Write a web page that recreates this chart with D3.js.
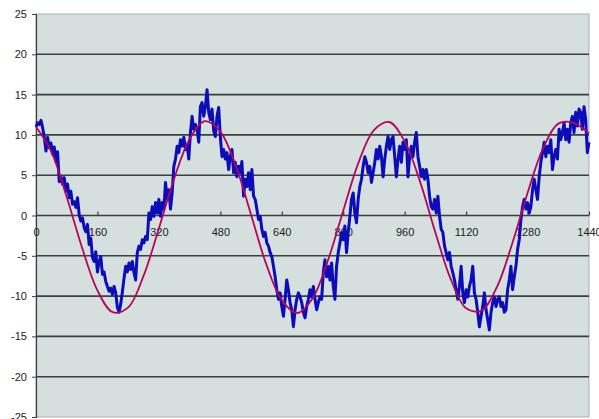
<!DOCTYPE html>
<html>
<head>
<meta charset="utf-8">
<script src="https://cdn.jsdelivr.net/npm/d3@7"></script>
<style>
  body { margin: 0; background: #ffffff; }
  svg { display: block; font-family: "Liberation Sans", Arial, sans-serif; }
  .tick text { font-size: 11px; fill: #222; }
</style>
</head>
<body>
<div id="chart"></div>
<script>
// axis settings
var xTicks = [0, 160, 320, 480, 640, 800, 960, 1120, 1280, 1440];
var yTicks = [-25, -20, -15, -10, -5, 0, 5, 10, 15, 20, 25];
var xMax = 1440;

// smooth (magenta) curve, read every 40 minutes
var smoothX = [0, 40, 80, 120, 160, 200, 240, 280, 320, 360, 400, 440, 480, 520, 560, 600, 640, 680, 720,
    760, 800, 840, 880, 920, 960, 1000, 1040, 1080, 1120, 1160, 1200, 1240, 1280, 1320, 1360, 1400, 1440];
var smoothY = [11.0, 7.9, 2.3, -4.0, -9.3, -12.0, -11.4, -7.5, -1.6, 4.6, 9.5, 11.7, 10.4, 6.2, 0.1, -6.1, -10.5,
    -12.1, -10.3, -5.6, 0.6, 6.6, 10.6, 11.6, 9.2, 4.2, -2.1, -7.9, -11.5, -11.8, -8.9, -3.5, 2.8, 8.3, 11.4, 11.5, 10.2];

// noisy (blue) series, evenly spaced over the day
var noisyY = [
    11.0, 11.5, 11.3, 11.8, 10.9, 9.7, 8.0, 9.7, 8.4, 9.0, 7.6, 8.5, 6.7, 7.9, 4.2, 4.8, 3.9, 4.7, 3.0, 3.9,
    2.2, 3.0, 1.4, 1.7, 1.0, 2.2, 0.1, -0.7, -0.3, -1.5, -2.0, -1.1, -3.6, -2.8, -5.2, -5.7, -4.5, -7.0, -5.7, -5.1,
    -7.3, -7.0, -8.2, -8.8, -9.4, -9.0, -9.8, -8.8, -9.6, -11.4, -12.0,
    -11.0, -9.5, -7.8, -6.3, -7.0, -5.9, -6.7, -5.7, -7.1, -8.0, -4.6, -3.8, -4.2, -3.0, -3.4, -2.6, -3.0, 0.3, -0.5, 1.1,
    -0.1, 1.6, 0.3, 2.0, -0.1, 1.6, 0.8, 4.1, 2.0, 3.2, 0.8, 2.8, 6.1, 7.0, 8.6, 7.8, 9.4, 8.6, 9.7, 8.2,
    8.8, 7.0, 10.3, 12.3, 10.7, 11.3, 10.7, 9.1, 13.5, 14.0, 12.3, 13.5, 15.6, 12.8, 11.9, 13.2, 10.5, 9.8, 12.3, 13.4,
    9.8, 7.3, 8.2, 7.0, 7.8, 5.7, 7.3, 8.2, 5.3, 6.6, 4.8, 6.1, 5.3, 6.7, 2.4, 4.5, 3.6, 5.3, 3.2, 5.7,
    2.4, 2.0, 0.8, -0.5, -0.1, -1.7, -2.6, -2.1, -3.4, -3.8, -4.6, -5.1, -6.3, -7.6, -9.2, -10.4, -9.6, -11.3, -12.5, -10.4,
    -8.0, -9.2, -10.8, -11.7, -13.8, -11.7, -10.4, -9.6, -10.1,
    -10.8, -12.0, -12.7, -11.3, -10.4, -9.2, -10.1, -8.8, -10.4, -11.7, -10.8, -10.1, -10.4, -7.1, -5.5, -7.6, -6.3, -8.0, -5.9, -8.8,
    -10.4, -6.3, -4.6, -3.4, -2.1, -3.0, -1.3, -4.6, -2.1, -0.1, 2.0, 2.8, 0.3, -0.9, 2.0, 3.6, 4.5, 6.1, 7.3, 6.6,
    5.3, 6.1, 4.1, 5.3, 6.6, 8.2, 7.0, 8.6, 7.3, 4.8, 7.0, 8.6, 9.8, 8.2, 9.4,
    9.8, 7.3, 4.8, 7.0, 8.6, 6.6, 9.1, 8.2, 9.4, 4.8, 7.3, 8.6, 7.3, 9.1, 10.3, 7.3, 6.1, 4.8, 5.7, 4.5,
    5.7, 4.5, 2.4, 1.1, 0.8, 2.0, 0.3, 2.4, -0.1, -1.7, -2.1, -3.8, -4.6, -5.5, -4.6, -6.3, -7.1, -8.0, -9.2, -10.4,
    -8.8, -6.3, -9.6, -10.8, -9.2, -10.1, -8.8, -8.0, -6.3, -9.6, -10.4, -12.0, -13.8, -12.5, -11.3,
    -9.6, -11.7, -12.9, -14.2, -12.0, -10.8, -10.1, -11.3, -10.4, -10.1, -11.3, -10.8, -12.0, -11.7, -9.2, -8.0, -6.3, -9.2, -7.6, -6.3,
    -4.2, -3.0, -0.5, 1.1, 2.0, 0.8, 1.6, 0.3, 1.1, 3.2, 4.5, 3.2, 2.0, 4.8, 6.6, 7.8, 9.1, 7.3, 8.6, 7.8,
    9.4, 5.7, 7.3, 8.2, 7.0, 10.7, 9.4, 10.3, 11.5, 9.4, 10.7, 9.1, 11.5, 12.3, 10.3, 12.8, 11.1, 13.2, 12.8, 10.7,
    13.5, 11.9, 7.8, 9.1
];

var width = 599, height = 419;
var padding = {left: 36, right: 10, top: 14, bottom: 2};

// plain labels: no thousands comma, ascii minus like the original
var plainFmt = function(d){ return String(d); };

var svg = d3.select("#chart").append("svg")
    .attr("width", width)
    .attr("height", height);

var x = d3.scaleLinear().domain([0, xMax]).range([padding.left, width - padding.right]);
var y = d3.scaleLinear().domain([-25, 25]).range([height - padding.bottom, padding.top]);

// plot area
svg.append("rect")
    .attr("x", x(0))
    .attr("y", y(25))
    .attr("width", x(xMax) - x(0))
    .attr("height", y(-25) - y(25))
    .style("fill", "#d5dfdd")
    .style("stroke", "#a9b1b1")
    .style("stroke-width", 1);

// gridlines
svg.append("g").selectAll("line")
    .data(yTicks.filter(function(d){ return d > -25 && d < 25; }))
    .enter().append("line")
    .attr("x1", x(0))
    .attr("x2", x(xMax))
    .attr("y1", function(d){ return y(d); })
    .attr("y2", function(d){ return y(d); })
    .style("stroke", "#3d3f3f")
    .style("stroke-width", 1.6);

// y axis
var y_axis = d3.axisLeft(y).tickValues(yTicks).tickFormat(plainFmt).tickSize(4).tickPadding(5);
var gy = svg.append("g")
    .attr("transform", "translate(" + x(0) + ",0)")
    .call(y_axis);
gy.select(".domain").style("stroke", "#3d3f3f").style("stroke-width", 1.2);
gy.selectAll(".tick line").style("stroke", "#3d3f3f");

// x axis along zero, ticks pointing up
var x_axis = d3.axisBottom(x).tickValues(xTicks).tickFormat(plainFmt)
    .tickSizeInner(-4).tickSizeOuter(0).tickPadding(13);
var gx = svg.append("g")
    .attr("transform", "translate(0," + y(0) + ")")
    .call(x_axis);
gx.select(".domain").remove();
gx.selectAll(".tick line").style("stroke", "#3d3f3f").style("stroke-width", 1.2);

// noisy series
var step = xMax / (noisyY.length - 1);
var noisyLine = d3.line()
    .x(function(d, i){ return x(i * step); })
    .y(function(d){ return y(d); });
svg.append("path")
    .datum(noisyY)
    .attr("d", noisyLine)
    .style("fill", "none")
    .style("stroke", "#0c0cb8")
    .style("stroke-width", 3)
    .style("stroke-linejoin", "round");

// smooth series
var smoothLine = d3.line()
    .x(function(d, i){ return x(smoothX[i]); })
    .y(function(d){ return y(d); })
    .curve(d3.curveCatmullRom);
svg.append("path")
    .datum(smoothY)
    .attr("d", smoothLine)
    .style("fill", "none")
    .style("stroke", "#b5065e")
    .style("stroke-width", 1.8);
</script>
</body>
</html>
